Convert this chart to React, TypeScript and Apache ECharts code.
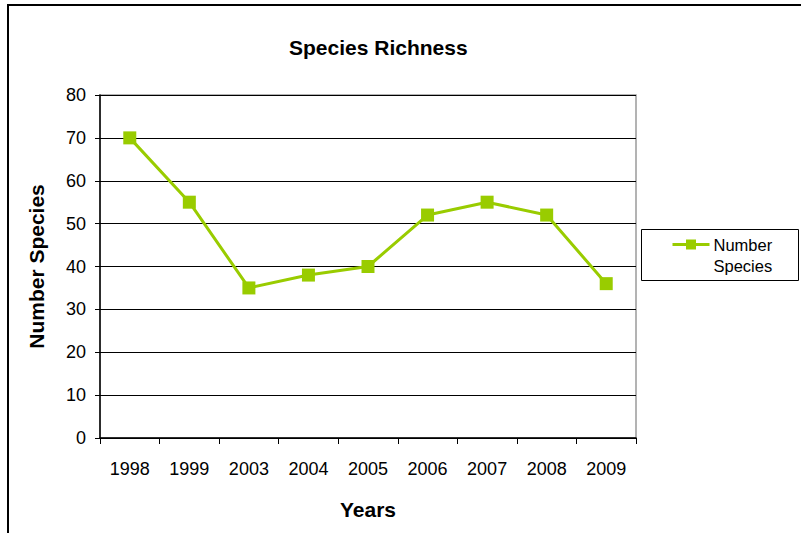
import React, { useEffect, useRef } from "react";
import * as echarts from "echarts";

const years = ["1998", "1999", "2003", "2004", "2005", "2006", "2007", "2008", "2009"];
const speciesCounts = [70, 55, 35, 38, 40, 52, 55, 52, 36];
const seriesName = "Number Species";
const legendLines = ["Number", "Species"];

const GREEN = "#99CC00";
const FONT = "'Liberation Sans', Arial, sans-serif";

export default function App() {
  const ref = useRef<HTMLDivElement>(null);

  useEffect(() => {
    if (!ref.current) return;
    const chart = echarts.init(ref.current, null, { renderer: "svg" });
    chart.setOption({
      animation: false,
      backgroundColor: "#ffffff",
      textStyle: { fontFamily: FONT, color: "#000" },
      title: {
        text: "Species Richness",
        left: 284,
        top: 32,
        textStyle: { fontFamily: FONT, fontSize: 21, fontWeight: "bold", color: "#000" },
      },
      grid: {
        left: 100,
        top: 95,
        right: 165,
        bottom: 95,
        show: true,
        borderColor: "#9a9a9a",
        borderWidth: 1.5,
        containLabel: false,
      },
      xAxis: {
        type: "category",
        data: years,
        boundaryGap: true,
        name: "Years",
        nameLocation: "middle",
        nameGap: 61,
        nameTextStyle: { fontFamily: FONT, fontSize: 21, fontWeight: "bold", color: "#000" },
        axisLine: { show: true, lineStyle: { color: "#000", width: 1.5 } },
        axisTick: { show: true, alignWithLabel: false, length: 6, lineStyle: { color: "#000", width: 1 } },
        axisLabel: { fontFamily: FONT, fontSize: 18, color: "#000", margin: 22 },
        splitLine: { show: false },
      },
      yAxis: {
        type: "value",
        min: 0,
        max: 80,
        interval: 10,
        name: seriesName,
        nameLocation: "middle",
        nameRotate: 90,
        nameGap: 53,
        nameTextStyle: { fontFamily: FONT, fontSize: 21, fontWeight: "bold", color: "#000" },
        axisLine: { show: true, lineStyle: { color: "#000", width: 1.5 } },
        axisTick: { show: true, length: 5, lineStyle: { color: "#000", width: 1 } },
        axisLabel: { fontFamily: FONT, fontSize: 18, color: "#000", margin: 14 },
        splitLine: { show: true, lineStyle: { color: "#000", width: 1 } },
      },
      series: [
        {
          name: seriesName,
          type: "line",
          data: speciesCounts,
          symbol: "rect",
          symbolSize: 13,
          lineStyle: { color: GREEN, width: 3 },
          itemStyle: { color: GREEN },
          z: 5,
        },
      ],
      graphic: [
        // outer chart frame
        {
          type: "line",
          shape: { x1: 8, y1: 5, x2: 8, y2: 540 },
          style: { stroke: "#000", lineWidth: 2 },
        },
        {
          type: "line",
          shape: { x1: 7, y1: 5, x2: 810, y2: 5 },
          style: { stroke: "#000", lineWidth: 2 },
        },
        // legend
        {
          type: "group",
          left: 641,
          top: 229,
          children: [
            {
              type: "rect",
              shape: { x: 0, y: 0, width: 157, height: 51 },
              style: { fill: "#fff", stroke: "#000", lineWidth: 1 },
            },
            {
              type: "line",
              shape: { x1: 31, y1: 15, x2: 68, y2: 15 },
              style: { stroke: GREEN, lineWidth: 3 },
            },
            {
              type: "rect",
              shape: { x: 44.5, y: 10, width: 10, height: 10 },
              style: { fill: GREEN },
            },
            {
              type: "text",
              x: 72,
              y: 5,
              style: {
                text: legendLines.join("\n"),
                fontFamily: FONT,
                fontSize: 16.5,
                lineHeight: 21,
                fill: "#000",
                verticalAlign: "top",
              },
            },
          ],
        },
      ],
    });
    return () => chart.dispose();
  }, []);

  return (
    <div
      ref={ref}
      style={{ position: "fixed", left: 0, top: 0, width: 801, height: 533 }}
    />
  );
}
